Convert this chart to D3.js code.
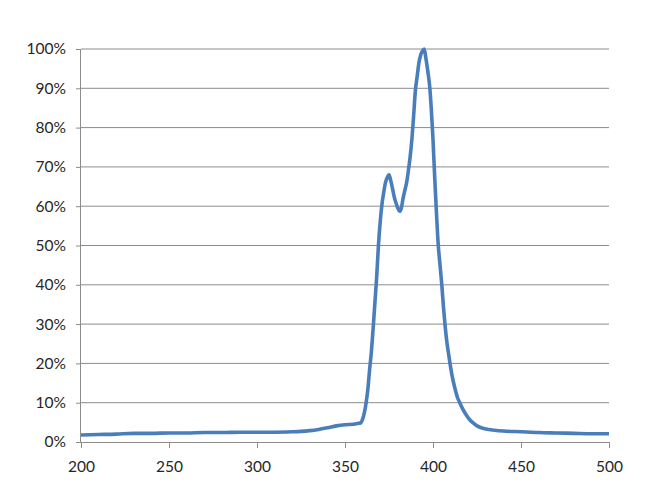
<!DOCTYPE html>
<html>
<head>
<meta charset="utf-8">
<script src="https://cdn.jsdelivr.net/npm/d3@7"></script>
<style>
  html, body { margin: 0; padding: 0; background: #fff; }
  svg text { font-family: Lato, "Open Sans", sans-serif; fill: #262626; }
</style>
</head>
<body>
<div id="chart"></div>
<script>
// wavelength (nm) and relative intensity (%)
const wavelengths = [200, 210, 220, 230, 240, 250, 260, 270, 280, 290, 300, 310, 320, 325, 330, 335, 340, 345, 350, 355, 357,
  359, 360, 361, 362, 363, 364, 365, 366, 367, 368, 369, 370, 371, 372, 373, 374, 375, 376, 377, 378, 379, 380,
  381, 382, 383, 384, 385, 386, 387, 388, 389, 390, 391, 392, 393, 394, 395, 396, 397, 398, 399, 400,
  401, 402, 403, 404, 405, 406, 407, 408, 409, 410, 411, 412, 413, 414, 415, 417, 419, 421, 423, 425, 427,
  430, 435, 440, 450, 460, 470, 480, 490, 500];
const intensity = [1.8, 1.9, 2.0, 2.2, 2.2, 2.3, 2.3, 2.4, 2.4, 2.5, 2.5, 2.5, 2.6, 2.7, 2.9, 3.2, 3.6, 4.1, 4.4, 4.5, 4.7,
  4.9, 5.8, 7.5, 10, 13.5, 18.5, 23, 29, 35.5, 42, 50, 56, 60.5, 63.5, 66, 67.3, 68, 66.5, 64.5, 62.3, 60.8, 59.5,
  58.7, 59.5, 62, 64, 66, 69, 72.5, 77, 83, 89.5, 93, 96.5, 98.5, 99.5, 100, 97.5, 94.5, 91, 85, 77,
  67, 58, 50, 45, 40, 34, 29, 25, 22, 19, 16.5, 14.5, 12.7, 11.2, 10.2, 8.3, 6.8, 5.6, 4.8, 4.1, 3.7,
  3.3, 3.0, 2.8, 2.6, 2.4, 2.3, 2.2, 2.1, 2.1];
const xTicks = [200, 250, 300, 350, 400, 450, 500];
const yTicks = [0, 10, 20, 30, 40, 50, 60, 70, 80, 90, 100];

const W = 666, H = 483;
const margin = {top: 49, right: 57, bottom: 41, left: 81};
const width = W - margin.left - margin.right;
const height = H - margin.top - margin.bottom;

const svg = d3.select("#chart").append("svg")
  .attr("width", W)
  .attr("height", H)
  .append("g")
  .attr("transform", `translate(${margin.left},${margin.top})`);

const x = d3.scaleLinear().domain([200, 500]).range([0, width]);
const y = d3.scaleLinear().domain([0, 100]).range([height, 0]);

// horizontal grid lines
svg.append("g")
  .selectAll("line")
  .data(yTicks.filter(d => d > 0))
  .enter()
  .append("line")
  .attr("x1", 0)
  .attr("x2", width)
  .attr("y1", d => y(d))
  .attr("y2", d => y(d))
  .attr("stroke", "#8c8c8c")
  .attr("stroke-width", 1);

const yAxis = svg.append("g")
  .call(d3.axisLeft(y).tickValues(yTicks).tickSize(5).tickPadding(10).tickFormat(d => d + "%"));

const xAxis = svg.append("g")
  .attr("transform", `translate(0,${height})`)
  .call(d3.axisBottom(x).tickValues(xTicks).tickSize(6).tickPadding(13));

[yAxis, xAxis].forEach(a => {
  a.select(".domain").attr("stroke", "#8c8c8c");
  a.selectAll(".tick line").attr("stroke", "#8c8c8c");
  a.selectAll("text").attr("font-size", 15.5).attr("font-family", null).attr("fill", "#262626");
});
xAxis.select(".domain").attr("d", `M0,0.5H${width}`);
yAxis.select(".domain").attr("d", `M-0.5,0V${height}`);

const points = wavelengths.map((w, i) => [w, intensity[i]]);

svg.append("path")
  .datum(points)
  .attr("fill", "none")
  .attr("stroke", "#4a7ebb")
  .attr("stroke-width", 3.6)
  .attr("stroke-linejoin", "round")
  .attr("d", d3.line()
    .x(d => x(d[0]))
    .y(d => y(d[1]))
    .curve(d3.curveMonotoneX));
</script>
</body>
</html>
